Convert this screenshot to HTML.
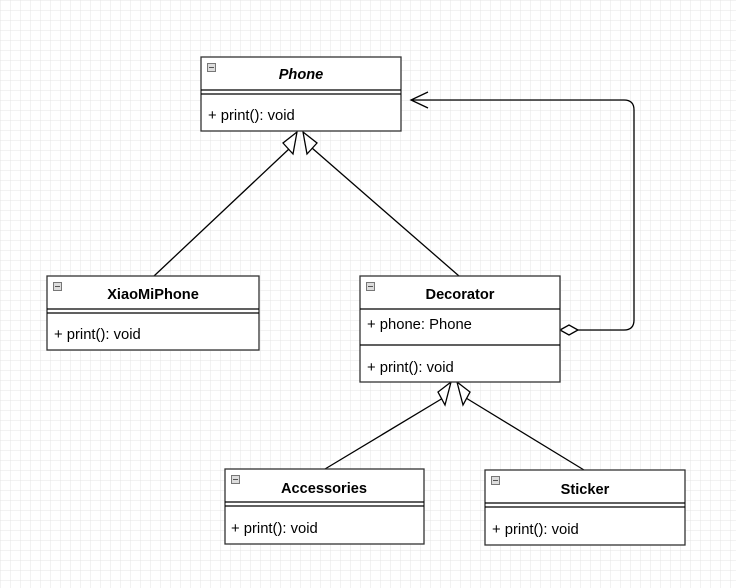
<!DOCTYPE html>
<html><head><style>
html,body{margin:0;padding:0;background:#fff}
svg{display:block}
text{font-family:"Liberation Sans",Arial,sans-serif;font-size:14.8px;fill:#000}
.b{font-weight:bold;font-size:14.6px}
</style></head><body>
<svg width="736" height="588" xmlns="http://www.w3.org/2000/svg">
<defs>
<pattern id="g" width="10" height="10" patternUnits="userSpaceOnUse" x="1" y="1">
<path d="M10 0V10H0" fill="none" stroke="#e4e4e4" stroke-width="1"/>
</pattern>
</defs>
<rect width="736" height="588" fill="url(#g)"/>
<g stroke="#000" stroke-width="1.3" fill="none">
<line x1="154" y1="276" x2="290" y2="148"/>
<line x1="459" y1="276" x2="312" y2="148"/>
<polygon points="297,132 283,143 293,154" fill="#fff"/>
<polygon points="303,132 317,143 307,154" fill="#fff"/>
<line x1="325" y1="469" x2="443" y2="398"/>
<line x1="584" y1="470" x2="466" y2="398"/>
<polygon points="451,382 438,392 445,405" fill="#fff"/>
<polygon points="457,382 470,392 463,405" fill="#fff"/>
<path d="M578 330H624Q634 330 634 320V110Q634 100 624 100H412"/>
<path d="M428 92L411 100L428 108"/>
<polygon points="560,330 569,325 578,330 569,335" fill="#fff"/>
</g>
<g stroke="#333" stroke-width="1.3" fill="#fff">
<rect x="201" y="57" width="200" height="74"/>
<rect x="47" y="276" width="212" height="74"/>
<rect x="360" y="276" width="200" height="106"/>
<rect x="225" y="469" width="199" height="75"/>
<rect x="485" y="470" width="200" height="75"/>
</g>
<g stroke="#000" stroke-width="1.2">
<line x1="201" y1="90" x2="401" y2="90"/><line x1="201" y1="94" x2="401" y2="94"/>
<line x1="47" y1="309" x2="259" y2="309"/><line x1="47" y1="313" x2="259" y2="313"/>
<line x1="360" y1="309" x2="560" y2="309"/><line x1="360" y1="345" x2="560" y2="345"/>
<line x1="225" y1="502" x2="424" y2="502"/><line x1="225" y1="506" x2="424" y2="506"/>
<line x1="485" y1="503" x2="685" y2="503"/><line x1="485" y1="507" x2="685" y2="507"/>
</g>
<g fill="#ddd" stroke="#777" stroke-width="1">
<rect x="207.5" y="63.5" width="8" height="8"/>
<rect x="53.5" y="282.5" width="8" height="8"/>
<rect x="366.5" y="282.5" width="8" height="8"/>
<rect x="231.5" y="475.5" width="8" height="8"/>
<rect x="491.5" y="476.5" width="8" height="8"/>
</g>
<g stroke="#555" stroke-width="1">
<line x1="209" y1="67.5" x2="214" y2="67.5"/>
<line x1="55" y1="286.5" x2="60" y2="286.5"/>
<line x1="368" y1="286.5" x2="373" y2="286.5"/>
<line x1="233" y1="479.5" x2="238" y2="479.5"/>
<line x1="493" y1="480.5" x2="498" y2="480.5"/>
</g>
<text x="301" y="79" text-anchor="middle" class="b" font-style="italic">Phone</text>
<text x="208" y="120">+ print(): void</text>
<text x="153" y="299" text-anchor="middle" class="b">XiaoMiPhone</text>
<text x="54" y="339">+ print(): void</text>
<text x="460" y="299" text-anchor="middle" class="b">Decorator</text>
<text x="367" y="329">+ phone: Phone</text>
<text x="367" y="372">+ print(): void</text>
<text x="324" y="493" text-anchor="middle" class="b">Accessories</text>
<text x="231" y="533">+ print(): void</text>
<text x="585" y="494" text-anchor="middle" class="b">Sticker</text>
<text x="492" y="534">+ print(): void</text>
</svg>
</body></html>
